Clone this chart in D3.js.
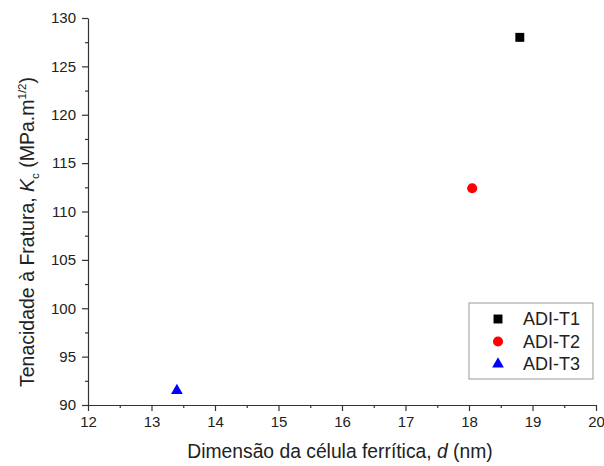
<!DOCTYPE html>
<html>
<head>
<meta charset="utf-8">
<script src="https://cdn.jsdelivr.net/npm/d3@7"></script>
<style>
  body { margin: 0; background: #fff; }
  text { font-family: "Liberation Sans", Arial, sans-serif; fill: #222; }
  .axis path, .axis line { stroke: #333; stroke-width: 1.2; }
</style>
</head>
<body>
<div id="vis"></div>
<script>
const FRAME_WIDTH = 604;
const FRAME_HEIGHT = 466;
const MARGINS = {left: 88, right: 8, top: 18, bottom: 61};

// data
const series = ["ADI-T1", "ADI-T2", "ADI-T3"];
const cellSize = [18.8, 18.05, 13.4];     // d (nm)
const toughness = [128.0, 112.4, 91.5];   // Kc (MPa.m^1/2)
const colors = ["#000000", "#ff0000", "#0000ff"];
const shapes = [d3.symbolSquare, d3.symbolCircle, d3.symbolTriangle];

const xTicks = [12, 13, 14, 15, 16, 17, 18, 19, 20];
const yTicks = [90, 95, 100, 105, 110, 115, 120, 125, 130];

const VIS_WIDTH = FRAME_WIDTH - MARGINS.left - MARGINS.right;
const VIS_HEIGHT = FRAME_HEIGHT - MARGINS.top - MARGINS.bottom;

const svg = d3.select("#vis")
  .append("svg")
    .attr("width", FRAME_WIDTH)
    .attr("height", FRAME_HEIGHT);

const X_SCALE = d3.scaleLinear().domain([12, 20]).range([0, VIS_WIDTH]);
const Y_SCALE = d3.scaleLinear().domain([90, 130]).range([VIS_HEIGHT, 0]);

const g = svg.append("g")
  .attr("transform", "translate(" + MARGINS.left + "," + MARGINS.top + ")");

// minor ticks first, then major
g.append("g")
  .attr("class", "axis")
  .attr("transform", "translate(0," + VIS_HEIGHT + ")")
  .call(d3.axisBottom(X_SCALE).tickValues(d3.range(12.5, 20, 1)).tickSize(3).tickFormat(""))
  .call(a => a.select(".domain").remove());
g.append("g")
  .attr("class", "axis")
  .call(d3.axisLeft(Y_SCALE).tickValues(d3.range(92.5, 130, 5)).tickSize(3).tickFormat(""))
  .call(a => a.select(".domain").remove());

g.append("g")
  .attr("class", "axis")
  .attr("transform", "translate(0," + VIS_HEIGHT + ")")
  .call(d3.axisBottom(X_SCALE).tickValues(xTicks).tickSize(6).tickSizeOuter(0).tickPadding(5))
  .attr("font-size", "15px");

g.append("g")
  .attr("class", "axis")
  .call(d3.axisLeft(Y_SCALE).tickValues(yTicks).tickSize(6).tickSizeOuter(0).tickPadding(6))
  .attr("font-size", "15px");

// points
g.selectAll(".pt")
  .data(series)
  .enter()
  .append("path")
    .attr("class", "pt")
    .attr("d", (d, i) => d3.symbol().type(shapes[i]).size(i === 2 ? 60 : 80)())
    .attr("transform", (d, i) => "translate(" + X_SCALE(cellSize[i]) + "," + Y_SCALE(toughness[i]) + ")")
    .attr("fill", (d, i) => colors[i]);

// axis titles
svg.append("text")
  .attr("x", 340)
  .attr("y", 458)
  .attr("text-anchor", "middle")
  .attr("font-size", "19.3px")
  .html('Dimensão da célula ferrítica, <tspan font-style="italic">d</tspan> (nm)');

svg.append("text")
  .attr("transform", "translate(34,232) rotate(-90)")
  .attr("text-anchor", "middle")
  .attr("font-size", "19.5px")
  .html('Tenacidade à Fratura, <tspan font-style="italic">K</tspan><tspan font-size="11.5px" dy="5">c</tspan><tspan dy="-5"> (MPa.m</tspan><tspan font-size="11.5px" dy="-8">1/2</tspan><tspan dy="8">)</tspan>');

// legend
const legend = svg.append("g").attr("transform", "translate(469,303)");
legend.append("rect")
  .attr("width", 124).attr("height", 76)
  .attr("fill", "#fff").attr("stroke", "#999").attr("stroke-width", 1);

const items = legend.selectAll(".item")
  .data(series)
  .enter()
  .append("g")
    .attr("transform", (d, i) => "translate(29," + (16 + i * 22.5) + ")");
items.append("path")
  .attr("d", (d, i) => d3.symbol().type(shapes[i]).size(i === 2 ? 60 : 80)())
  .attr("fill", (d, i) => colors[i]);
items.append("text")
  .attr("x", 25)
  .attr("dy", "0.36em")
  .attr("font-size", "18px")
  .text(d => d);
</script>
</body>
</html>
